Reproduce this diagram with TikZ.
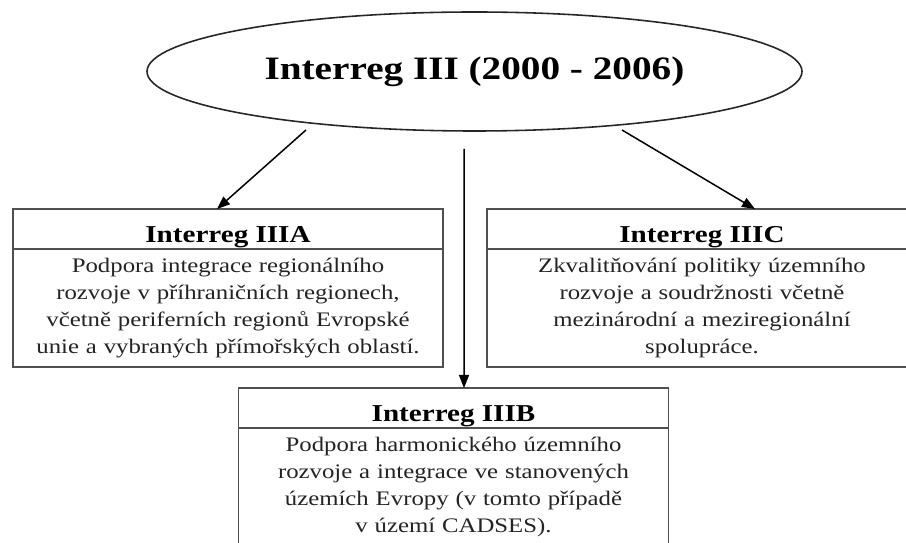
\documentclass[tikz,border=0pt]{standalone}
\usepackage{fontspec}
\setmainfont[FakeStretch=1.2]{Liberation Serif}
\usepackage{tikz}
\usetikzlibrary{shapes,shapes.geometric,arrows.meta,positioning,calc}

\definecolor{boxgray}{RGB}{80,80,80}
\definecolor{txtgray}{RGB}{35,35,35}

\tikzset{
    head/.style={draw=boxgray, line width=1.1pt, minimum width=8.6cm, minimum height=0.8cm, inner sep=0pt, outer sep=0pt, text height=15.9pt, text depth=0pt, font=\fontsize{13.8}{16}\selectfont\bfseries},
    body/.style={draw=boxgray, line width=1.1pt, minimum width=8.6cm, minimum height=2.36cm, text width=8.2cm, align=center, inner sep=0pt, outer sep=0pt, text=txtgray, font=\fontsize{11.75}{15.4}\selectfont},
    arr/.style={-{Triangle[length=0.26cm,width=0.2cm]}, line width=0.85pt}
}

\begin{document}
\begin{tikzpicture}
    \useasboundingbox (0,0) rectangle (18.12,-10.86);
    \clip (0,0) rectangle (18.12,-10.86);

    \node[ellipse, draw=black!85, line width=0.9pt, minimum width=13.1cm, minimum height=2.38cm, inner sep=0pt, outer sep=0pt, font=\fontsize{18.6}{22}\selectfont\bfseries] (main) at (9.49,-1.43) {Interreg III (2000 - 2006)};

    \node[head] (headA) at (4.56,-4.58) {Interreg IIIA};
    \node[body, below=0pt of headA] (bodyA) {Podpora integrace regionálního\\ rozvoje v příhraničních regionech,\\ včetně periferních regionů Evropské\\ unie a vybraných přímořských oblastí.};

    \node[head] (headC) at (14.04,-4.58) {Interreg IIIC};
    \node[body, below=0pt of headC] (bodyC) {Zkvalitňování politiky územního\\ rozvoje a soudržnosti včetně\\ mezinárodní a meziregionální\\ spolupráce.};

    \node[head] (headB) at (9.07,-8.16) {Interreg IIIB};
    \node[body, below=0pt of headB] (bodyB) {Podpora harmonického územního\\ rozvoje a integrace ve stanovených\\ územích Evropy (v tomto případě\\ v území CADSES).};

    \coordinate (fromA) at (6.12,-2.60);
    \coordinate (fromB) at (9.28,-2.98);
    \coordinate (fromC) at (12.44,-2.60);

    \draw[arr] (fromA) -- ([xshift=-0.22cm]headA.north);
    \draw[arr] (fromB) -- ([xshift=0.21cm]headB.north);
    \draw[arr] (fromC) -- ([xshift=1.06cm]headC.north);
\end{tikzpicture}
\end{document}
